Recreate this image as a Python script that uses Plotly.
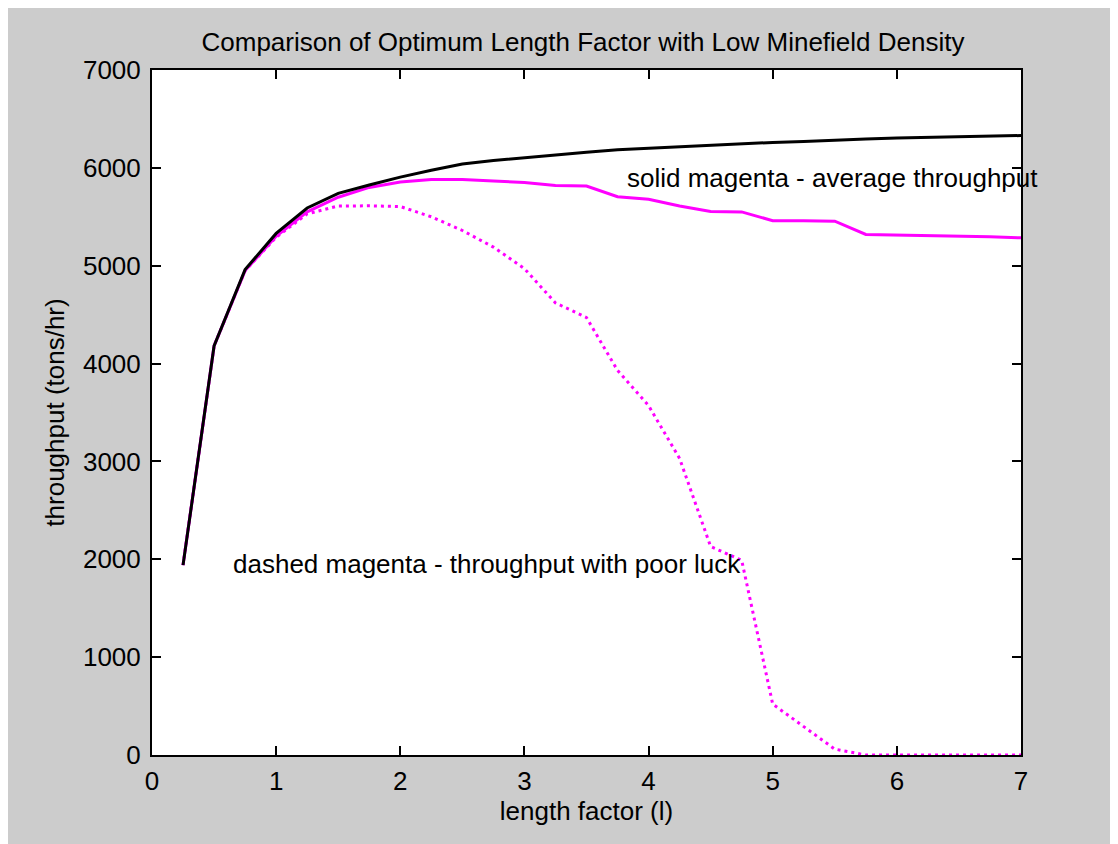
import plotly.graph_objects as go

length_factor = [0.25, 0.5, 0.75, 1.0, 1.25, 1.5, 1.75, 2.0, 2.25, 2.5, 2.75, 3.0, 3.25, 3.5,
                 3.75, 4.0, 4.25, 4.5, 4.75, 5.0, 5.25, 5.5, 5.75, 6.0, 6.25, 6.5, 6.75, 7.0]

ideal_throughput = [1940, 4180, 4960, 5330, 5590, 5740, 5825, 5905, 5975, 6040, 6075, 6105, 6135, 6160,
                    6185, 6200, 6220, 6235, 6250, 6260, 6270, 6285, 6295, 6305, 6310, 6318, 6325, 6330]

average_throughput = [1940, 4180, 4950, 5300, 5550, 5700, 5800, 5855, 5880, 5880, 5865, 5850, 5820, 5815,
                      5705, 5680, 5610, 5555, 5550, 5460, 5460, 5455, 5320, 5315, 5310, 5300, 5295, 5285]

poor_luck_throughput = [1940, 4180, 4950, 5290, 5530, 5610, 5612, 5605, 5500, 5360, 5190, 4970, 4620, 4470,
                        3930, 3570, 3030, 2130, 1990, 520, 290, 60, 0, 0, 0, 0, 0, 0]

title_text = "Comparison of Optimum Length Factor with Low Minefield Density"
x_label = "length factor (l)"
y_label = "throughput (tons/hr)"
note_solid = "solid magenta - average throughput"
note_dashed = "dashed magenta - throughput with poor luck"

FONT = "Liberation Sans, Arial, sans-serif"
FS = 26

fig = go.Figure()
fig.add_trace(go.Scatter(x=length_factor, y=poor_luck_throughput, mode="lines",
                         line=dict(color="#ff00ff", width=3, dash="3px,4px"), showlegend=False))
fig.add_trace(go.Scatter(x=length_factor, y=average_throughput, mode="lines",
                         line=dict(color="#ff00ff", width=3), showlegend=False))
fig.add_trace(go.Scatter(x=length_factor, y=ideal_throughput, mode="lines",
                         line=dict(color="#000000", width=3), showlegend=False))

fig.add_annotation(x=3.826, y=5896, text=note_solid, showarrow=False, xanchor="left", yanchor="middle",
                   xshift=-2, font=dict(family=FONT, size=FS, color="black"))
fig.add_annotation(x=0.652, y=1952, text=note_dashed, showarrow=False, xanchor="left", yanchor="middle",
                   xshift=-2, font=dict(family=FONT, size=FS, color="black"))

axis_common = dict(showgrid=False, zeroline=False, showline=True, linecolor="black", linewidth=2,
                   mirror="ticks", ticks="inside", ticklen=9, tickwidth=2, tickcolor="black",
                   tickfont=dict(family=FONT, size=FS, color="black"))

fig.update_xaxes(range=[0, 7], tickvals=[0, 1, 2, 3, 4, 5, 6, 7], ticklabelstandoff=2,
                 title=dict(text=x_label, font=dict(family=FONT, size=FS, color="black"), standoff=0),
                 **axis_common)
fig.update_yaxes(range=[0, 7000], tickvals=[0, 1000, 2000, 3000, 4000, 5000, 6000, 7000], ticklabelstandoff=4,
                 title=dict(text=y_label, font=dict(family=FONT, size=FS, color="black"), standoff=11),
                 **axis_common)

L, T, W, H = 144, 62, 869, 685
fig.update_layout(
    width=1118, height=844,
    paper_bgcolor="#cccccc", plot_bgcolor="white",
    margin=dict(l=L, r=1118 - L - W, t=T, b=844 - T - H, autoexpand=False),
    title=dict(text=title_text, x=(575 - L) / W, xanchor="center", y=1 - 34 / 844, yanchor="middle",
               xref="paper", font=dict(family=FONT, size=FS, color="black")),
)

fig.write_html("out.html")
